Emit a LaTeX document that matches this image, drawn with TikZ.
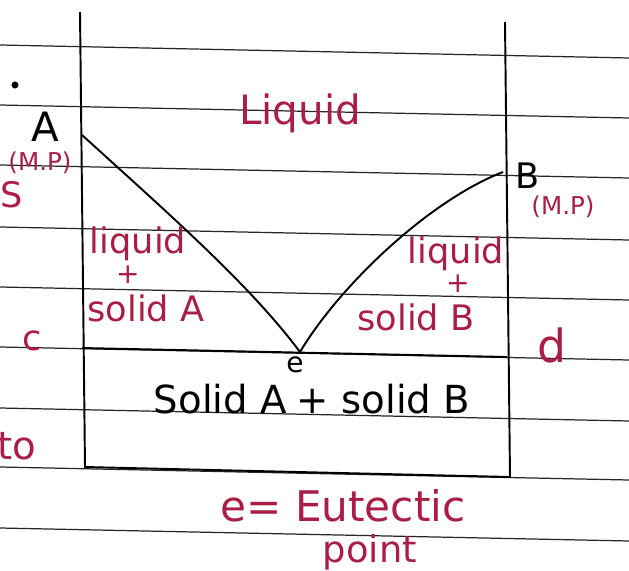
\documentclass[tikz,border=0pt]{standalone}
\usepackage{fontspec}
\setmainfont{DejaVu Sans}
\usetikzlibrary{calc,positioning}
\definecolor{penred}{RGB}{170,30,70}
\tikzset{
  ruled line/.style={black!85,line width=0.7pt},
  box line/.style={black,line width=1.1pt},
  phase curve/.style={black,line width=1.1pt},
  red note/.style={text=penred,inner sep=0pt,font=\fontsize{#1}{#1}\selectfont},
  red note/.default=20,
  ink note/.style={text=black,inner sep=0pt,font=\fontsize{#1}{#1}\selectfont},
  ink note/.default=20
}
\begin{document}
\begin{tikzpicture}[x=0.02cm,y=-0.02cm]
    \useasboundingbox (0,0) rectangle (629,571);
    % ruled lines of the page
    \foreach \ry in {45,105,165,227,287,347,408,467,528}
      \draw[ruled line] (0,\ry) -- (629,\ry+13);
    \coordinate (topleft) at (80,12);
    \coordinate (botleft) at (85,467);
    \coordinate (topright) at (505,22);
    \coordinate (botright) at (510,477);
    \coordinate (eutleft) at (82,348);
    \coordinate (eutright) at (507,357);
    \coordinate (meltA) at (82,135);
    \coordinate (meltB) at (503,172);
    \coordinate (eutectic) at (300,352);
    \draw[box line] (topleft) -- (botleft) -- (botright) -- (topright);
    \draw[box line] (eutleft) -- (eutright);
    \draw[phase curve] (meltA) .. controls (170,215) and (250,285) .. (eutectic);
    \draw[phase curve] (eutectic) .. controls (340,285) and (430,200) .. (meltB);
    \fill (15,85) circle (2pt);
    % labels
    \node[red note=23] (liquidtop) at (300,113) {Liquid};
    \node[ink note=23] (labelA) at (45,127) {A};
    \node[red note=14] (mpA) at (40,163) {(M.P)};
    \node[red note=20] (cutS) at (12,195) {S};
    \node[ink note=20] (labelB) at (528,176) {B};
    \node[red note=14] (mpB) at (563,207) {(M.P)};
    \node[red note=20] (liquidA) at (138,244) {liquid};
    \node[red note=16] (plusA) at (128,275) {+};
    \node[red note=20] (solidA) at (146,308) {solid A};
    \node[red note=20] (liquidB) at (456,254) {liquid};
    \node[red note=16] (plusB) at (458,284) {+};
    \node[red note=20] (solidB) at (416,317) {solid B};
    \node[red note=20] (labelc) at (32,341) {c};
    \node[red note=26] (labeld) at (552,345) {d};
    \node[ink note=16] (labele) at (295,365) {e};
    \node[ink note=22] (solidAB) at (312,399) {Solid A$\;$+ solid B};
    \node[red note=22] (cutto) at (17,446) {to};
    \node[red note=24] (eutnote) at (343,506) {e= Eutectic};
    \node[red note=21] (pointnote) at (370,552) {point};
\end{tikzpicture}
\end{document}
